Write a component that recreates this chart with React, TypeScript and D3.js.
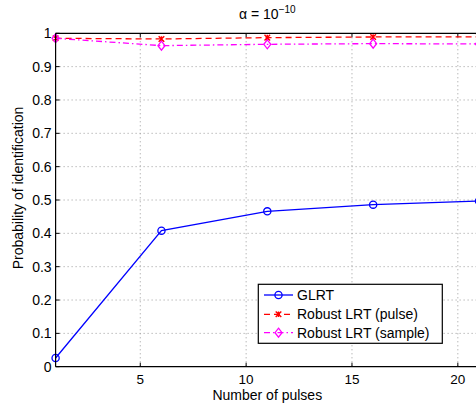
import React from 'react';
import * as d3 from 'd3';

// pulses on the x axis
const pulses = [1, 6, 11, 16, 21];
// probability of identification
const glrt = [0.026, 0.408, 0.466, 0.486, 0.497];
const robustPulse = [0.985, 0.983, 0.987, 0.989, 0.989];
const robustSample = [0.985, 0.963, 0.967, 0.969, 0.968];

const xTicks = [5, 10, 15, 20];
const yTicks = [0, 0.1, 0.2, 0.3, 0.4, 0.5, 0.6, 0.7, 0.8, 0.9, 1];

const legendLabels = ['GLRT', 'Robust LRT (pulse)', 'Robust LRT (sample)'];

const W = 476;
const H = 403;
const left = 55.6;
const right = 479;
const top = 33.3;
const bottom = 366.7;
const font = '"Liberation Sans", Arial, Helvetica, sans-serif';

type Style = { color: string; dash: string; marker: 'circle' | 'star' | 'diamond' };
const styles: Style[] = [
  { color: '#0000ff', dash: '', marker: 'circle' },
  { color: '#ff0000', dash: '6,4', marker: 'star' },
  { color: '#ff00ff', dash: '6,3,1.5,3', marker: 'diamond' },
];

const Marker = ({ x, y, s }: { x: number; y: number; s: Style }) => {
  if (s.marker === 'circle')
    return <circle cx={x} cy={y} r={3.6} fill="none" stroke={s.color} strokeWidth={1.3} />;
  if (s.marker === 'diamond')
    return (
      <path
        d={`M${x},${y - 4.5}L${x + 3.5},${y}L${x},${y + 4.5}L${x - 3.5},${y}Z`}
        fill="none"
        stroke={s.color}
        strokeWidth={1.3}
      />
    );
  const r = 2.8;
  return (
    <path
      d={`M${x - r},${y - r}L${x + r},${y + r}M${x - r},${y + r}L${x + r},${y - r}M${x},${y - r}L${x},${y + r}`}
      stroke={s.color}
      strokeWidth={1.4}
    />
  );
};

export default function App() {
  const x = d3.scaleLinear().domain([1, 21]).range([left, right]);
  const y = d3.scaleLinear().domain([0, 1]).range([bottom, top]);
  const series = [glrt, robustPulse, robustSample];
  const line = d3
    .line<number>()
    .x((_, i) => x(pulses[i]))
    .y((d) => y(d));

  const lg = { x0: 258.3, y0: 284.3, w: 184, h: 59, rows: [295, 314.3, 332.7] };

  return (
    <svg
      width={W}
      height={H}
      style={{ position: 'absolute', left: 0, top: 0, background: '#fff' }}
      fontFamily={font}
    >
      <rect width={W} height={H} fill="#fff" />
      {/* grid */}
      <g stroke="#9a9a9a" strokeWidth={1} strokeDasharray="1,3">
        {xTicks.map((t) => (
          <line key={'gx' + t} x1={x(t)} x2={x(t)} y1={top} y2={bottom} />
        ))}
        {yTicks.slice(1, -1).map((t) => (
          <line key={'gy' + t} x1={left} x2={right} y1={y(t)} y2={y(t)} />
        ))}
      </g>
      {/* ticks */}
      <g stroke="#000" strokeWidth={1}>
        {xTicks.map((t) => (
          <g key={'tx' + t}>
            <line x1={x(t)} x2={x(t)} y1={bottom} y2={bottom - 4} />
            <line x1={x(t)} x2={x(t)} y1={top} y2={top + 4} />
          </g>
        ))}
        {yTicks.map((t) => (
          <line key={'ty' + t} x1={left} x2={left + 4} y1={y(t)} y2={y(t)} />
        ))}
      </g>
      {/* series */}
      {series.map((vals, si) => (
        <g key={'s' + si}>
          <path
            d={line(vals) || ''}
            fill="none"
            stroke={styles[si].color}
            strokeWidth={1.3}
            strokeDasharray={styles[si].dash}
          />
          {vals.map((v, i) => (
            <Marker key={i} x={x(pulses[i])} y={y(v)} s={styles[si]} />
          ))}
        </g>
      ))}
      {/* axes box */}
      <g stroke="#000" strokeWidth={1.2} fill="none">
        <line x1={left} x2={right} y1={bottom} y2={bottom} />
        <line x1={left} x2={right} y1={top} y2={top} />
        <line x1={left} x2={left} y1={top} y2={bottom} />
      </g>
      {/* tick labels */}
      <g fontSize={14} fill="#000">
        {xTicks.map((t) => (
          <text key={'lx' + t} x={x(t)} y={384} fontSize={13.5} textAnchor="middle">
            {t}
          </text>
        ))}
        {yTicks.map((t) => (
          <text key={'ly' + t} x={left - 4} y={y(t) + 5} textAnchor="end">
            {t}
          </text>
        ))}
      </g>
      <text x={(left + right) / 2} y={400} textAnchor="middle" fontSize={14}>
        Number of pulses
      </text>
      <text
        transform={`translate(23,${(top + bottom) / 2 - 12}) rotate(-90)`}
        textAnchor="middle"
        fontSize={14}
      >
        Probability of identification
      </text>
      <text x={(left + right) / 2} y={19} textAnchor="middle" fontSize={14}>
        α = 10
        <tspan fontSize={10} dy={-6}>
          −10
        </tspan>
      </text>
      {/* legend */}
      <rect x={lg.x0} y={lg.y0} width={lg.w} height={lg.h} fill="#fff" stroke="#000" strokeWidth={1.2} />
      {legendLabels.map((lab, i) => (
        <g key={lab}>
          <line
            x1={264}
            x2={293}
            y1={lg.rows[i]}
            y2={lg.rows[i]}
            stroke={styles[i].color}
            strokeWidth={1.3}
            strokeDasharray={styles[i].dash}
          />
          <Marker x={278.5} y={lg.rows[i]} s={styles[i]} />
          <text x={297} y={lg.rows[i] + 5} fontSize={14}>
            {lab}
          </text>
        </g>
      ))}
    </svg>
  );
}
